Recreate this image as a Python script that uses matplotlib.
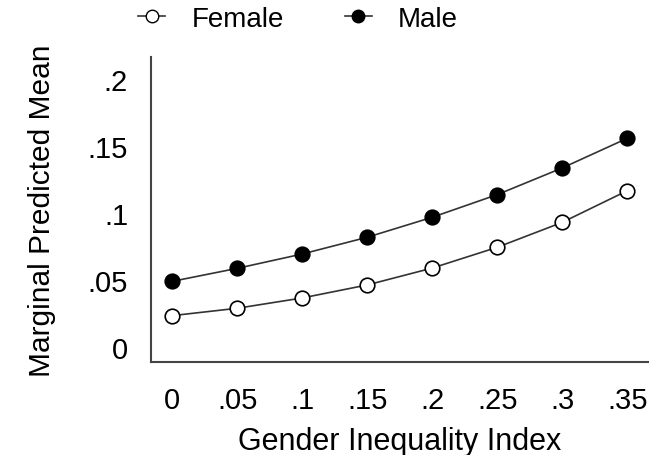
import matplotlib
matplotlib.use("Agg")
import matplotlib.pyplot as plt
from matplotlib.lines import Line2D

plt.rcParams['font.family'] = ['Liberation Sans', 'DejaVu Sans']

gii = [0, 0.05, 0.1, 0.15, 0.2, 0.25, 0.3, 0.35]
female = [0.0234, 0.0289, 0.0366, 0.0463, 0.0589, 0.0744, 0.0930, 0.1166]
male = [0.0490, 0.0587, 0.0694, 0.0819, 0.0968, 0.1137, 0.1336, 0.1557]
xtick_vals = [0, 0.05, 0.1, 0.15, 0.2, 0.25, 0.3, 0.35]
xtick_labels = ['0', '.05', '.1', '.15', '.2', '.25', '.3', '.35']
ytick_vals = [0, 0.05, 0.1, 0.15, 0.2]
ytick_labels = ['0', '.05', '.1', '.15', '.2']

fig = plt.figure(figsize=(6.58, 4.56), dpi=100)
ax = fig.add_axes([151/658, 1-363/456, (648-151)/658, (363-58)/456])

ax.plot(gii, female, '-', color='#333333', lw=1.2, marker='o', ms=10.5,
        mfc='white', mec='black', mew=1.2, label='Female')
ax.plot(gii, male, '-', color='#333333', lw=1.2, marker='o', ms=10.5,
        mfc='black', mec='black', mew=1.2, label='Male')

ax.set_xlim(-0.0164, 0.366)
ax.set_ylim(-0.0112, 0.2164)
ax.set_xticks(xtick_vals)
ax.set_xticklabels(xtick_labels)
ax.set_yticks(ytick_vals)
ax.set_yticklabels(ytick_labels)
ax.tick_params(axis='both', length=0, labelsize=21, colors='black')
ax.tick_params(axis='x', pad=17)
ax.tick_params(axis='y', pad=16.5)
ax.spines['top'].set_visible(False)
ax.spines['right'].set_visible(False)
for s in ['left', 'bottom']:
    ax.spines[s].set_color('#444444')
    ax.spines[s].set_linewidth(1.5)

ax.set_xlabel('Gender Inequality Index', fontsize=22, labelpad=9)
ax.set_ylabel('Marginal Predicted Mean', fontsize=21.5, labelpad=23)

handles = [
    Line2D([], [], color='#333333', lw=1.2, marker='o', ms=9, mfc='white', mec='black', label='Female'),
    Line2D([], [], color='#333333', lw=1.2, marker='o', ms=9, mfc='black', mec='black', label='Male'),
]
fig.legend(handles=handles, loc='center', bbox_to_anchor=(298/658, 1-20/456), ncol=2,
           frameon=False, fontsize=20, handlelength=0.97, columnspacing=2.2, handletextpad=0.94)

fig.savefig('out.png', dpi=100)
